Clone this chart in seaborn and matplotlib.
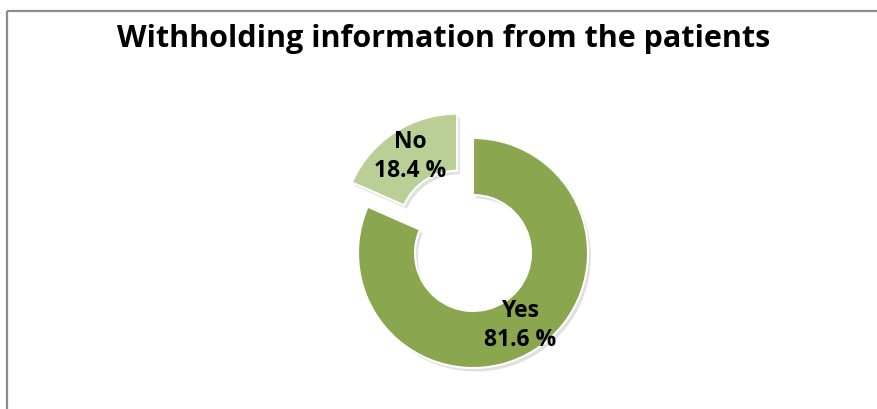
import matplotlib
matplotlib.use("Agg")
import matplotlib.pyplot as plt
import seaborn as sns

categories = ["Yes", "No"]
percentages = [81.6, 18.4]
colors = ["#8aa64f", "#b9cf96"]
title = "Withholding information from the patients"

sns.set_theme(style="white")
plt.rcParams["font.family"] = ["Open Sans", "DejaVu Sans"]

W, H = 877, 409
fig = plt.figure(figsize=(W / 100, H / 100), dpi=100)
fig.patch.set_facecolor("white")

# pixel-space axes covering the whole canvas
ax = fig.add_axes([0, 0, 1, 1])

wedges, texts, autotexts = ax.pie(
    percentages,
    colors=colors,
    startangle=90,
    counterclock=False,
    center=(473, H - 253),
    radius=115,
    explode=[0, 29],
    autopct="%.1f",
    pctdistance=0.75,
    wedgeprops=dict(width=57, edgecolor="white", linewidth=1.5),
    shadow=dict(ox=2, oy=-2.5, facecolor="#9a9a9a", edgecolor="none", alpha=0.3),
)
for cat, val, t in zip(categories, percentages, autotexts):
    t.set_text(f"{cat}\n{val:.1f} %")
    t.set_fontsize(16.5)
    t.set_fontweight("bold")
    t.set_color("black")
    t.set_linespacing(1.3)
    t.set_multialignment("center")

ax.set_xlim(0, W)
ax.set_ylim(0, H)
ax.set_aspect("equal")
ax.axis("off")

# chart frame (top and left edges)
ax.plot([7, W], [H - 10.5, H - 10.5], color="#8c8c8c", lw=1.6, solid_capstyle="butt")
ax.plot([7, 7], [0, H - 10.5], color="#8c8c8c", lw=1.6, solid_capstyle="butt")

fig.text(444 / W, 1 - 47 / H, title, ha="center", va="baseline",
         fontsize=22, fontweight="bold", color="black")

fig.savefig("out.png", dpi=100, facecolor="white")
